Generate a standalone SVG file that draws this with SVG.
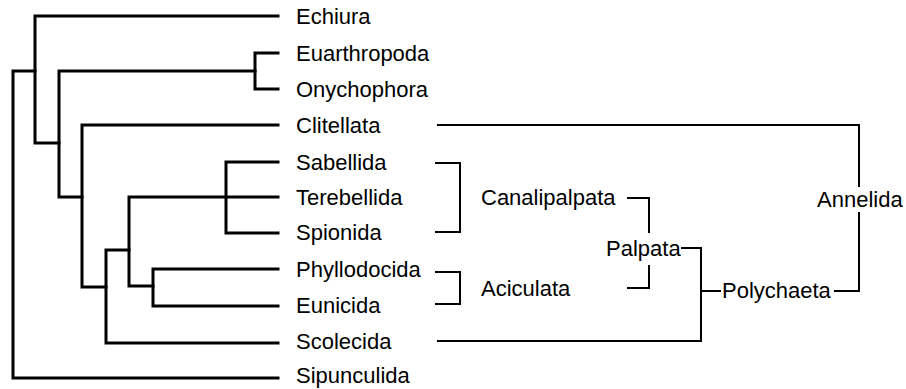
<svg xmlns="http://www.w3.org/2000/svg" width="906" height="389" viewBox="0 0 906 389">
<style>
.tree{fill:none;stroke:#000;stroke-width:3;stroke-linecap:square;stroke-linejoin:miter}
.br{fill:none;stroke:#000;stroke-width:2;stroke-linecap:butt;stroke-linejoin:miter}
text{font-family:"Liberation Sans",Arial,Helvetica,sans-serif;font-size:22px;fill:#000}
</style>
<rect width="906" height="389" fill="#fff"/>
<g id="connectors">
<path class="tree" d="M278,16 H35 V143 H59"/>
<path class="tree" d="M35,71 H13 V378 H278"/>
<path class="tree" d="M278,53 H255 V89 H278"/>
<path class="tree" d="M255,71 H59 V197 H82"/>
<path class="tree" d="M278,125 H82 V287 H106"/>
<path class="tree" d="M129,250 H106 V343 H278"/>
<path class="tree" d="M278,197 H129 V286 H153"/>
<path class="tree" d="M278,269 H153 V306 H278"/>
<path class="tree" d="M278,162 H226 V233 H278"/>
<path class="br" d="M435,163 H460 V232 H435"/>
<path class="br" d="M435,272 H460 V304 H435"/>
<path class="br" d="M627,198 H649 V233"/>
<path class="br" d="M649,265 V288 H627"/>
<path class="br" d="M681,248 H701 V341 H437"/>
<path class="br" d="M701,291 H721"/>
<path class="br" d="M834,291 H859 V212"/>
<path class="br" d="M859,187 V125 H437"/>
</g>
<g id="n-echiura"><text x="296" y="24">Echiura</text></g>
<g id="n-euarthropoda"><text x="296" y="61">Euarthropoda</text></g>
<g id="n-onychophora"><text x="296" y="97">Onychophora</text></g>
<g id="n-clitellata"><text x="296" y="133">Clitellata</text></g>
<g id="n-sabellida"><text x="296" y="170">Sabellida</text></g>
<g id="n-terebellida"><text x="296" y="205">Terebellida</text></g>
<g id="n-spionida"><text x="296" y="240">Spionida</text></g>
<g id="n-phyllodocida"><text x="296" y="277">Phyllodocida</text></g>
<g id="n-eunicida"><text x="296" y="313">Eunicida</text></g>
<g id="n-scolecida"><text x="296" y="349">Scolecida</text></g>
<g id="n-sipunculida"><text x="296" y="383">Sipunculida</text></g>
<g id="n-canalipalpata"><text x="481" y="205">Canalipalpata</text></g>
<g id="n-aciculata"><text x="481" y="296">Aciculata</text></g>
<g id="n-palpata"><text x="606" y="256">Palpata</text></g>
<g id="n-polychaeta"><text x="722" y="298">Polychaeta</text></g>
<g id="n-annelida"><text x="817" y="207">Annelida</text></g>
</svg>
